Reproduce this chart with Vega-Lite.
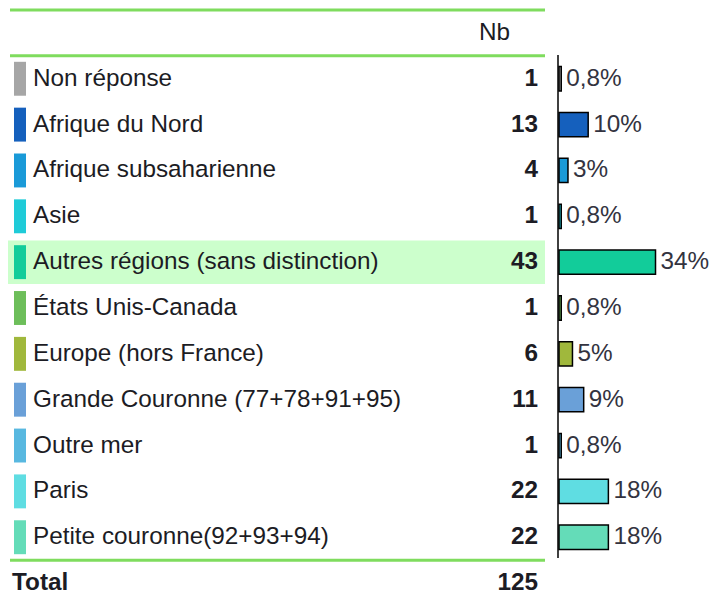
{
  "$schema": "https://vega.github.io/schema/vega-lite/v6.json",
  "width": 722,
  "height": 597,
  "padding": 0,
  "autosize": {"type": "none"},
  "background": "white",
  "config": {"view": {"stroke": null}, "text": {"font": "Liberation Sans", "fontSize": 24.3, "baseline": "middle"}},
  "datasets": {
    "rows": [
      {"cat": "Non réponse", "n": 1, "pct": "0,8%"},
      {"cat": "Afrique du Nord", "n": 13, "pct": "10%"},
      {"cat": "Afrique subsaharienne", "n": 4, "pct": "3%"},
      {"cat": "Asie", "n": 1, "pct": "0,8%"},
      {"cat": "Autres régions (sans distinction)", "n": 43, "pct": "34%"},
      {"cat": "États Unis-Canada", "n": 1, "pct": "0,8%"},
      {"cat": "Europe (hors France)", "n": 6, "pct": "5%"},
      {"cat": "Grande Couronne (77+78+91+95)", "n": 11, "pct": "9%"},
      {"cat": "Outre mer", "n": 1, "pct": "0,8%"},
      {"cat": "Paris", "n": 22, "pct": "18%"},
      {"cat": "Petite couronne(92+93+94)", "n": 22, "pct": "18%"}
    ],
    "lines": [{"cat": "hdr"}, {"cat": "Non réponse"}, {"cat": "Total"}],
    "extra": [
      {"cat": "hdr", "left": "", "right": "Nb"},
      {"cat": "Total", "left": "Total", "right": "125"}
    ]
  },
  "data": {"name": "rows"},
  "encoding": {
    "y": {
      "field": "cat",
      "type": "nominal",
      "sort": null,
      "axis": null,
      "scale": {
        "domain": ["hdr", "Non réponse", "Afrique du Nord", "Afrique subsaharienne", "Asie", "Autres régions (sans distinction)", "États Unis-Canada", "Europe (hors France)", "Grande Couronne (77+78+91+95)", "Outre mer", "Paris", "Petite couronne(92+93+94)", "Total"],
        "range": [10, 606],
        "paddingInner": 0,
        "paddingOuter": 0
      }
    }
  },
  "layer": [
    {
      "transform": [{"filter": "datum.cat === 'Autres régions (sans distinction)'"}],
      "mark": {"type": "bar", "color": "#ccffcc", "height": {"band": 0.95}},
      "encoding": {"x": {"value": 8}, "x2": {"value": 545}}
    },
    {
      "data": {"name": "lines"},
      "mark": {"type": "rule", "color": "#7fdc5e", "strokeWidth": 3},
      "encoding": {"y": {"field": "cat", "type": "nominal", "bandPosition": 0}, "x": {"value": 10}, "x2": {"value": 545}}
    },
    {
      "mark": {"type": "bar", "height": {"band": 0.74}},
      "encoding": {
        "x": {"value": 14},
        "x2": {"value": 26},
        "color": {"field": "cat", "type": "nominal", "legend": null, "scale": {
          "domain": ["Non réponse", "Afrique du Nord", "Afrique subsaharienne", "Asie", "Autres régions (sans distinction)", "États Unis-Canada", "Europe (hors France)", "Grande Couronne (77+78+91+95)", "Outre mer", "Paris", "Petite couronne(92+93+94)"],
          "range": ["#a6a6a6", "#1560bd", "#1a9ad8", "#1fcbd8", "#12cc9a", "#6dbe5a", "#a0b83c", "#6aa0d8", "#58b8e0", "#5fdde2", "#64dcb8"]
        }}
      }
    },
    {
      "mark": {"type": "text", "align": "left", "color": "#1c1c24"},
      "encoding": {"x": {"value": 33}, "text": {"field": "cat"}}
    },
    {
      "mark": {"type": "text", "align": "right", "fontWeight": "bold", "color": "#1c1c24"},
      "encoding": {"x": {"value": 538}, "text": {"field": "n"}}
    },
    {
      "mark": {"type": "rule", "color": "#404040", "strokeWidth": 1.5},
      "encoding": {"x": {"value": 558}, "y": {"value": 55}, "y2": {"value": 558}}
    },
    {
      "mark": {"type": "bar", "stroke": "#000000", "strokeWidth": 1.5, "height": {"band": 0.53}},
      "encoding": {
        "x": {"field": "n", "type": "quantitative", "axis": null, "scale": {"domain": [0, 43], "range": [559, 660], "zero": true}},
        "color": {"field": "cat", "type": "nominal", "legend": null}
      }
    },
    {
      "mark": {"type": "text", "align": "left", "dx": 5, "color": "#333340"},
      "encoding": {"x": {"field": "n", "type": "quantitative"}, "text": {"field": "pct"}}
    },
    {
      "data": {"name": "extra"},
      "mark": {"type": "text", "align": "left", "fontWeight": "bold", "color": "#1c1c24"},
      "encoding": {"x": {"value": 12}, "text": {"field": "left"}}
    },
    {
      "data": {"name": "extra"},
      "transform": [{"filter": "datum.cat === 'Total'"}],
      "mark": {"type": "text", "align": "right", "fontWeight": "bold", "color": "#1c1c24"},
      "encoding": {"x": {"value": 538}, "text": {"field": "right"}}
    },
    {
      "data": {"name": "extra"},
      "transform": [{"filter": "datum.cat === 'hdr'"}],
      "mark": {"type": "text", "align": "right", "color": "#1c1c24"},
      "encoding": {"x": {"value": 510}, "text": {"field": "right"}}
    }
  ]
}
